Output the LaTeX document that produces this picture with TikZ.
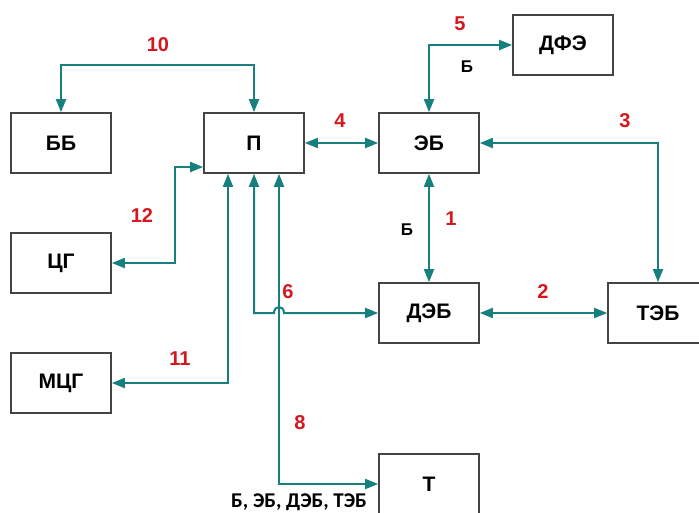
\documentclass[tikz,border=0pt]{standalone}
\usepackage{fontspec}
\setmainfont{Liberation Sans}
\newfontfamily\notefont{Carlito}
\usetikzlibrary{arrows.meta,calc}
\definecolor{wire}{HTML}{17807E}
\definecolor{frame}{HTML}{444444}
\definecolor{numred}{HTML}{D5181E}
\newcommand{\boxfont}{\fontsize{21}{23}\selectfont\bfseries}
\tikzset{
 every node/.append style={font=\boxfont,text=black,align=center},
 block/.style={draw=frame,fill=white,line width=1.7pt,minimum width=100pt,minimum height=60pt,inner sep=0pt},
 link/.style={draw=wire,line width=2pt,{Triangle[length=13pt,width=10pt]}-{Triangle[length=13pt,width=10pt]}},
 num/.style={text=numred,font=\fontsize{20}{22}\selectfont\bfseries,inner sep=1pt},
 tag/.style={font=\fontsize{17}{19}\selectfont\bfseries,inner sep=1pt},
}

\begin{document}
\begin{tikzpicture}[x=1pt,y=-1pt]
\useasboundingbox[fill=white] (0,0) rectangle (699,513);

\node[block] (bb) at (61,143) {ББ};
\node[block] (p) at (254,143) {П};
\node[block] (eb) at (429,143) {ЭБ};
\node[block] (dfe) at (563,45) {ДФЭ};
\node[block] (cg) at (61,263) {ЦГ};
\node[block] (mcg) at (61,383) {МЦГ};
\node[block] (deb) at (429,313) {ДЭБ};
\node[block] (teb) at (658,313) {ТЭБ};
\node[block] (t) at (429,484) {Т};

% bends
\coordinate (top10) at (254,65);
\coordinate (bend12) at (175,263);

\draw[link] (bb.north) |- (top10) -- (p.north);
\draw[link] (p.east) -- (eb.west);
\draw[link] (eb.north) |- (dfe.west);
\draw[link] (eb.east) -| (teb.north);
\draw[link] (eb.south) -- (deb.north);
\draw[link] (deb.east) -- (teb.west);
\draw[link] (cg.east) -- (bend12) |- ([yshift=-24pt]p.west);
\draw[link] (mcg.east) -| ([xshift=-26pt]p.south);
\draw[link] ([xshift=25pt]p.south) |- (t.west);
\draw[link] (p.south) |- (274,313) .. controls (274,305) and (284,305) .. (284,313) -- (deb.west);

\node[num] (n10) at (158,45) {10};
\node[num] (n4) at (340,121) {4};
\node[num] (n5) at (460,24) {5};
\node[num] (n3) at (625,121) {3};
\node[num] (n1) at (451,219) {1};
\node[num] (n12) at (142,216) {12};
\node[num] (n6) at (288,292) {6};
\node[num] (n11) at (180,359) {11};
\node[num] (n8) at (300,423) {8};
\node[num] (n2) at (543,292) {2};
\node[tag] (b5) at (467,67) {Б};
\node[tag] (b1) at (407,230) {Б};
\node[tag,font=\notefont\fontsize{21}{23}\selectfont\bfseries,inner sep=0pt] (bt) at (299,502) {Б, ЭБ, ДЭБ, ТЭБ};
\end{tikzpicture}
\end{document}
